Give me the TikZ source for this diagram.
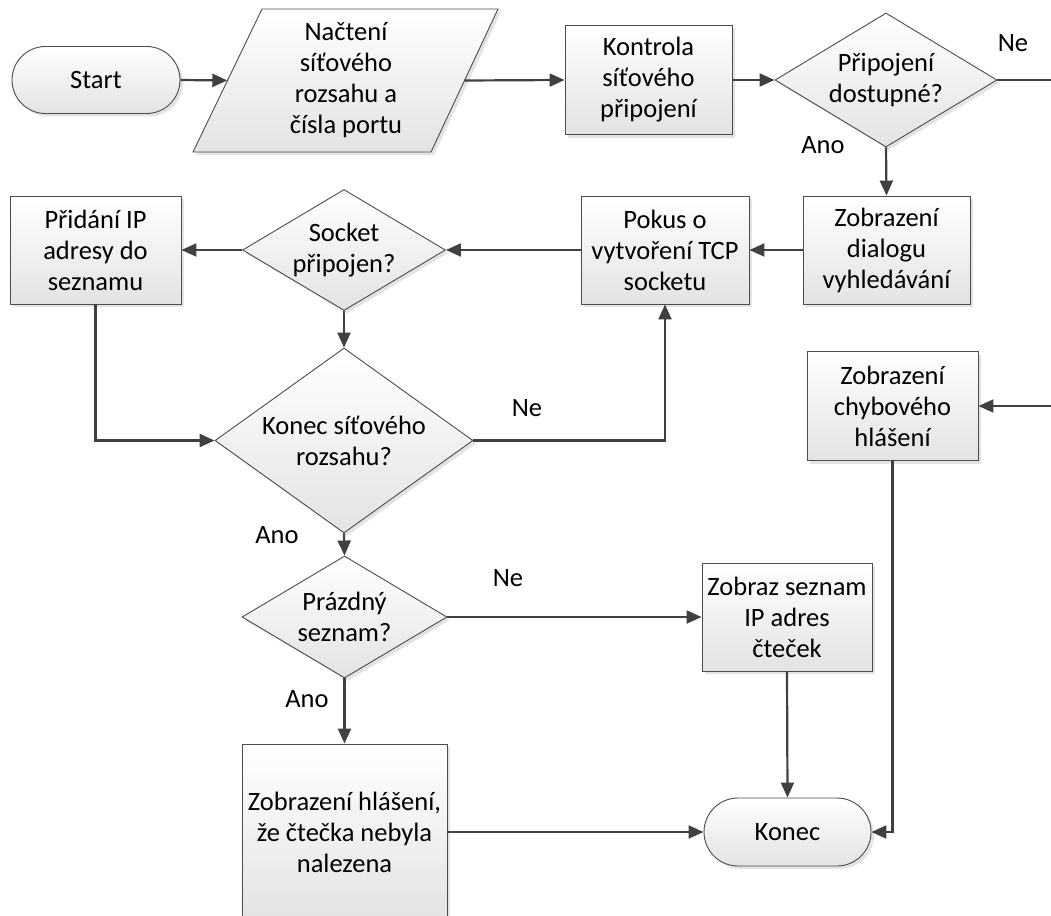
\documentclass[tikz,border=0pt]{standalone}
\usepackage{fontspec}
\setmainfont{Carlito}
\usetikzlibrary{arrows.meta,shapes.geometric,shapes.misc,shadows,backgrounds}
\begin{document}
\begin{tikzpicture}[x=1pt,y=-1pt,
  font=\fontsize{26.5}{31}\selectfont,
  every node/.style={align=center, inner sep=2pt},
  every label/.style={align=center, inner sep=0pt},
  base/.style={draw=black!70, line width=0.9pt, top color=white, bottom color=black!11,
    drop shadow={shadow xshift=3pt, shadow yshift=-3pt, fill=black!22}},
  procbox/.style={base, rectangle},
  terminal/.style={base, rounded rectangle},
  decision/.style={base, diamond},
  iotext/.style={rectangle, inner sep=0pt},
  flow/.style={draw=black!75, line width=2.2pt, -{Triangle[length=15pt,width=13pt]}},
  wire/.style={draw=black!75, line width=2.2pt}
]
\useasboundingbox (0,0) rectangle (1051,915);

% top row
\node[terminal, minimum width=172pt, minimum height=67pt] (start) at (96,80) {Start};
% input block: the node spans the mid-points of the slanted sides
\node[iotext, minimum width=237pt, minimum height=143pt] (nacteni) at (346,80.5)
  {Načtení\\síťového\\rozsahu a\\čísla portu};
\begin{scope}[on background layer]
  \path[base] ([shift={(-153,71.5)}]nacteni.center) -- ([shift={(-84,-71.5)}]nacteni.center)
    -- ([shift={(152,-71.5)}]nacteni.center) -- ([shift={(85,71.5)}]nacteni.center) -- cycle;
\end{scope}
\node[procbox, minimum width=167pt, minimum height=109pt] (kontrola) at (648.5,80)
  {Kontrola\\síťového\\připojení};
\node[decision, minimum width=222pt, minimum height=134pt,
  label={center:Připojení\\dostupné?}] (pripojeni) at (886,80) {};
\coordinate (offA) at (1051,80);

% second row
\node[procbox, minimum width=167pt, minimum height=108pt] (dialog) at (886.5,250)
  {Zobrazení\\dialogu\\vyhledávání};
\node[procbox, minimum width=168pt, minimum height=108pt] (pokus) at (665,250)
  {Pokus o\\vytvoření TCP\\socketu};
\node[decision, minimum width=203pt, minimum height=121pt,
  label={center:Socket\\připojen?}] (socket) at (344,250) {};
\node[procbox, minimum width=171pt, minimum height=108pt] (pridani) at (95.5,250)
  {Přidání IP\\adresy do\\seznamu};

% loop end test and error message
\node[decision, minimum width=258pt, minimum height=185pt,
  label={center:Konec síťového\\rozsahu?}] (konecrozsah) at (344,440.5) {};
\node[procbox, minimum width=171pt, minimum height=109pt] (chybove) at (892.5,406)
  {Zobrazení\\chybového\\hlášení};
\coordinate (offB) at (1051,406);

% result handling
\node[decision, minimum width=205pt, minimum height=122pt,
  label={center:Prázdný\\seznam?}] (prazdny) at (344.5,617) {};
\node[procbox, minimum width=170pt, minimum height=108pt] (seznam) at (787,617)
  {Zobraz seznam\\IP adres\\čteček};
\node[procbox, minimum width=205pt, minimum height=176pt] (nenalezena) at (344.5,832)
  {Zobrazení hlášení,\\že čtečka nebyla\\nalezena};
\node[terminal, minimum width=171pt, minimum height=68pt] (konec) at (787.5,832) {Konec};

% branch labels
\node (ne1) at (1013,43) {Ne};
\node (ano1) at (823,145) {Ano};
\node (ne2) at (527,408) {Ne};
\node (ano2) at (277,535) {Ano};
\node (ne3) at (508,578) {Ne};
\node (ano3) at (307,699) {Ano};

% connectors
\draw[flow] (start.east) -- (nacteni.west);
\draw[flow] (nacteni.east) -- (kontrola.west);
\draw[flow] (kontrola.east) -- (pripojeni.west);
\draw[wire] (pripojeni.east) -- (offA);
\draw[flow] (pripojeni.south) -- (dialog.north);
\draw[flow] (dialog.west) -- (pokus.east);
\draw[flow] (pokus.west) -- (socket.east);
\draw[flow] (socket.west) -- (pridani.east);
\draw[flow] (socket.south) -- (konecrozsah.north);
\draw[flow] (pridani.south) |- (konecrozsah.west);
\draw[flow] (konecrozsah.east) -| (pokus.south);
\draw[flow] (konecrozsah.south) -- (prazdny.north);
\draw[flow] (prazdny.east) -- (seznam.west);
\draw[flow] (prazdny.south) -- (nenalezena.north);
\draw[flow] (seznam.south) -- (konec.north);
\draw[flow] (nenalezena.east) -- (konec.west);
\draw[flow] (offB) -- (chybove.east);
\draw[flow] (chybove.south) |- (konec.east);
\end{tikzpicture}
\end{document}
